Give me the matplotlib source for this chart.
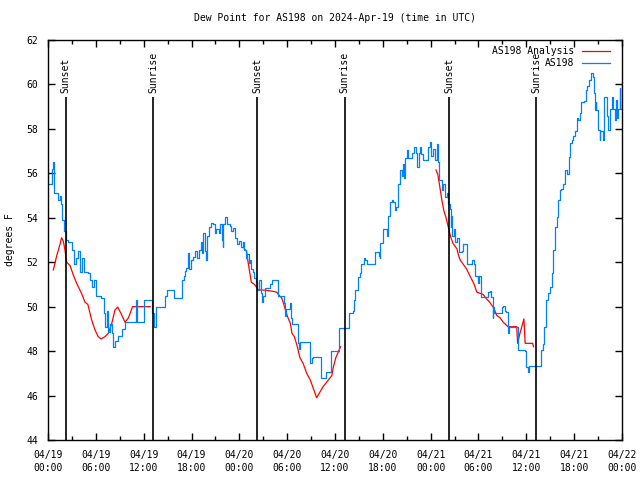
import numpy as np
import pandas as pd
import matplotlib
matplotlib.use('Agg')
import matplotlib.pyplot as plt

# dew point, hours since 2024-04-19 00:00 UTC
start = pd.Timestamp('2024-04-19 00:00')

blue_hr = [0.0, 0.4, 0.45, 0.55, 0.65, 0.75, 0.8, 1.3, 1.5, 1.63, 1.8, 2.05, 2.2, 2.5, 2.97,
           3.3, 3.47, 3.72, 4.0, 4.3, 4.55, 5.06, 5.27, 5.48, 5.8, 5.98, 6.3, 6.65, 7.06, 7.15,
           7.36, 7.57, 7.78, 7.99, 8.2, 8.4, 8.8, 9.3, 9.66, 10.9, 11.0, 11.15, 11.9, 12.1, 12.9,
           13.0, 13.3, 13.5, 14.5, 14.7, 14.9, 15.65, 15.8, 16.6, 16.8, 17.0, 17.2, 17.3, 17.5,
           17.7, 17.9, 18.15, 18.4, 18.65, 18.98, 19.15, 19.3, 19.5, 19.7, 19.8, 20.0, 20.2,
           20.5, 20.7, 20.9, 21.1, 21.4, 21.6, 21.8, 21.9, 22.0, 22.2, 22.4, 22.8, 23.0, 23.25,
           23.45, 23.75, 24.0, 24.2, 24.4, 24.6, 24.8, 25.0, 25.2, 25.4, 25.5, 25.75, 25.9, 26.1,
           26.2, 26.5, 26.7, 26.8, 27.0, 27.2, 27.8, 28.05, 28.7, 28.9, 29.5, 29.6, 29.7, 29.9,
           30.2, 30.35, 30.5, 30.56, 31.2, 31.4, 31.5, 31.6, 32.65, 32.9, 33.1, 33.3, 34.0, 34.2,
           34.75, 34.9, 35.3, 35.45, 36.3, 36.5, 37.3, 37.7, 38.3, 38.4, 38.5, 38.9, 39.1, 39.3,
           39.6, 39.8, 40.0, 40.8, 41.0, 41.3, 41.5, 41.6, 41.7, 42.0, 42.3, 42.5, 42.7, 42.9,
           43.1, 43.3, 43.5, 43.7, 43.9, 44.2, 44.35, 44.5, 44.7, 44.8, 45.0, 45.2, 45.5, 45.7,
           45.9, 46.2, 46.3, 46.5, 46.7, 46.8, 47.0, 47.6, 47.7, 47.9, 48.1, 48.3, 48.55, 48.75,
           48.9, 49.0, 49.1, 49.2, 49.4, 49.6, 49.8, 50.0, 50.2, 50.4, 50.5, 50.6, 50.7, 50.9,
           51.1, 51.3, 51.6, 51.9, 52.1, 52.3, 52.5, 53.0, 53.2, 53.4, 53.6, 53.9, 54.1, 54.3,
           55.0, 55.2, 55.4, 55.6, 55.8, 55.85, 55.9, 56.7, 56.9, 57.1, 57.3, 57.5, 57.7, 57.8,
           58.8, 58.9, 59.8, 60.0, 60.2, 60.3, 61.6, 61.8, 62.05, 62.2, 62.5, 62.76, 63.0, 63.2,
           63.4, 63.6, 63.8, 64.0, 64.2, 64.4, 64.6, 64.86, 65.1, 65.3, 65.5, 65.7, 65.9, 66.1,
           66.3, 66.5, 66.7, 66.9, 67.2, 67.5, 67.6, 67.9, 68.1, 68.3, 68.5, 68.6, 68.7, 68.8,
           69.0, 69.2, 69.3, 69.6, 69.7, 69.8, 70.1, 70.3, 70.5, 70.7, 70.9, 71.1, 71.25, 71.4,
           71.5, 71.75, 71.8, 72.0]
blue_dp = [55.5, 55.5, 55.9, 56.2, 56.5, 55.9, 55.1, 54.8, 55.0, 54.6, 53.9, 53.4, 53.0, 52.9, 52.55,
           51.9, 52.2, 52.5, 51.55, 52.2, 51.55, 51.5, 51.2, 50.9, 51.2, 50.5, 50.5, 50.4, 49.7, 49.1,
           49.8, 48.85, 49.2, 48.8, 48.2, 48.45, 48.7, 49.0, 49.3, 49.3, 50.3, 49.3, 49.3, 50.3, 50.3,
           49.7, 49.1, 50.0, 50.0, 50.5, 50.75, 50.75, 50.4, 50.4, 51.2, 51.4, 51.6, 51.75, 52.4,
           51.7, 52.1, 52.25, 52.5, 52.2, 52.55, 52.9, 52.4, 53.3, 52.5, 52.1, 53.2, 53.6,
           53.75, 53.7, 53.3, 53.5, 53.3, 53.7, 53.0, 52.7, 53.7, 54.05, 53.7, 53.65, 53.4, 53.55,
           53.1, 52.8, 52.95, 52.7, 52.9, 52.55, 52.2, 52.35, 51.95, 52.1, 51.7, 51.55, 51.3, 51.1,
           50.75, 51.2, 50.6, 50.2, 50.5, 50.85, 51.0, 51.2, 51.2, 50.5, 50.5, 50.15, 49.6, 49.9,
           49.9, 50.15, 49.5, 49.2, 49.2, 48.35, 48.1, 48.4, 48.4, 47.45, 47.7, 47.75, 47.75, 46.8,
           46.8, 47.05, 47.05, 48.0, 48.0, 49.05, 49.05, 49.7, 49.8, 50.3, 50.75, 51.35, 51.5, 51.9,
           52.2, 52.1, 51.9, 51.9, 52.45, 52.45, 52.3, 52.2, 52.85, 53.5, 53.5, 53.2, 54.1, 54.7,
           54.8, 54.7, 54.35, 54.5, 55.5, 56.15, 55.9, 56.4, 55.8, 56.7, 57.05, 56.7, 56.7, 56.9,
           57.2, 56.9, 56.3, 56.9, 57.2, 56.85, 56.6, 56.6, 57.2, 57.4, 56.8, 57.1, 56.6, 57.3,
           56.5, 56.3, 55.7, 55.7, 55.25, 55.5, 54.95, 55.1, 54.6, 54.4, 53.6, 54.1, 53.2, 53.5,
           52.9, 53.1, 52.45, 52.5, 52.8, 52.8, 51.9, 51.9, 52.1, 51.9, 51.4, 51.05, 51.4, 50.45,
           50.45, 50.65, 50.7, 50.45, 49.5, 50.0, 49.7, 49.7, 50.0, 50.05, 49.8, 49.75, 48.8, 49.1,
           49.1, 48.05, 48.0, 47.3, 47.05, 47.35, 47.35, 48.05, 48.3, 49.1, 50.3, 50.6, 50.9, 51.5,
           52.55, 53.6, 54.05, 54.8, 55.25, 55.3, 55.5, 56.15, 55.95, 56.75, 57.35, 57.5, 57.7, 57.9,
           58.5, 58.4, 58.7, 59.2, 59.25, 59.75, 59.95, 60.2, 60.5, 60.35, 59.6, 58.85, 59.2, 58.85,
           57.95, 57.5, 57.9, 57.5, 58.25, 59.45, 58.6, 57.95, 58.9, 59.45, 58.9, 58.4, 59.3, 58.5,
           58.9, 59.85, 58.9, 60.0]

nan = np.nan
red_hr = [0.67, 1.1, 1.5, 1.7, 1.92, 2.13, 2.34, 2.76, 3.2, 3.6, 4.2, 4.64, 5.0, 5.27, 5.48, 5.9,
          6.3, 6.65, 7.15, 7.57, 8.0, 8.4, 8.74, 9.15, 9.66, 10.1, 10.6, 12.8, nan,
          24.6, 24.9, 25.1, 25.3, 25.5, 25.9, 26.4, 27.0, 28.1, 28.7, 29.0, 29.3, 29.5, 29.9, 30.1,
          30.4, 30.6, 30.9, 31.2, 31.6, 32.0, 32.45, 32.9, 33.3, 33.7, 34.1, 34.5, 34.95, 35.6,
          35.8, 36.1, 36.4, 36.7, nan,
          48.67, 48.9, 49.1, 49.4, 49.7, 49.9, 50.2, 50.5, 50.8, 51.3, 51.5, 51.7, 52.1, 52.5,
          52.9, 53.4, 53.8, 54.2, 54.6, 55.0, 55.4, 55.9, 56.3, 56.7, 57.1, 57.7, 58.8, 58.9,
          59.2, 59.7, 59.85, 60.8, 60.9]
red_dp = [51.65, 52.3, 52.8, 53.1, 52.95, 52.55, 52.0, 51.85, 51.4, 51.05, 50.6, 50.2, 50.1, 49.7,
          49.4, 48.95, 48.65, 48.55, 48.65, 48.8, 49.25, 49.85, 49.98, 49.7, 49.3, 49.5, 50.0,
          50.0, nan,
          52.6, 52.5, 52.0, 51.55, 51.1, 51.0, 50.75, 50.75, 50.7, 50.65, 50.5, 50.4, 50.2, 49.7,
          49.5, 49.25, 48.8, 48.65, 48.3, 47.7, 47.45, 47.0, 46.7, 46.3, 45.9, 46.15, 46.4,
          46.6, 46.9, 47.3, 47.7, 47.95, 48.2, nan,
          56.15, 55.95, 55.5, 54.8, 54.25, 54.05, 53.6, 53.15, 52.85, 52.6, 52.3, 52.1, 51.9,
          51.7, 51.4, 51.05, 50.65, 50.6, 50.55, 50.35, 50.2, 49.95, 49.6, 49.5, 49.3, 49.1,
          49.1, 48.35, 48.8, 49.45, 48.35, 48.35, 48.2]

sun_hr = [2.2, 13.2, 26.25, 37.2, 50.35, 61.2]
sun_lbl = ['Sunset', 'Sunrise', 'Sunset', 'Sunrise', 'Sunset', 'Sunrise']

x_ticks = list(range(0, 73, 6))
x_labels = [(start + pd.Timedelta(hours=h)).strftime('%m/%d\n%H:%M') for h in x_ticks]
y_ticks = list(range(44, 63, 2))

plt.rcParams['font.family'] = 'DejaVu Sans Mono'
fs = 7

fig = plt.figure(figsize=(6.4, 4.8), dpi=100)
ax = fig.add_axes([48 / 640, 40 / 480, 574 / 640, 400 / 480])

ax.plot(red_hr, red_dp, color='#ff0000', lw=0.9, label='AS198 Analysis')
ax.plot(blue_hr, blue_dp, color='#0080ff', lw=0.9, drawstyle='steps-post', label='AS198')

# sunrise / sunset markers
ax.vlines(sun_hr, 44, 59.45, color='black', lw=1.2)
for h, s in zip(sun_hr, sun_lbl):
    ax.text(h, 59.6, s, rotation=90, ha='center', va='bottom', fontsize=fs)

ax.set_xlim(0, 72)
ax.set_ylim(44, 62)
ax.set_xticks(x_ticks)
ax.set_xticklabels(x_labels, linespacing=1.4)
ax.set_xticks(range(0, 73, 3), minor=True)
ax.set_yticks(y_ticks)

ax.tick_params(which='both', direction='in', top=True, right=True, labelsize=fs, width=1)
ax.tick_params(which='major', length=5)
ax.tick_params(which='minor', length=3)
ax.tick_params(axis='x', pad=7)
ax.tick_params(axis='y', pad=7)
for sp in ax.spines.values():
    sp.set_linewidth(1)

ax.set_title('Dew Point for AS198 on 2024-Apr-19 (time in UTC)', fontsize=fs, pad=14)
ax.set_ylabel('degrees F', fontsize=fs, labelpad=8)

leg = ax.legend(loc='upper right', bbox_to_anchor=(1 - 12 / 574, 1 - 6 / 400), frameon=False,
                markerfirst=False, fontsize=fs, handlelength=2.9, handletextpad=0.8,
                labelspacing=0.2, borderaxespad=0, borderpad=0)
# right-align the entries like gnuplot does
for col in leg._legend_handle_box.get_children():
    col.align = 'right'

plt.savefig('out.png', dpi=100)
